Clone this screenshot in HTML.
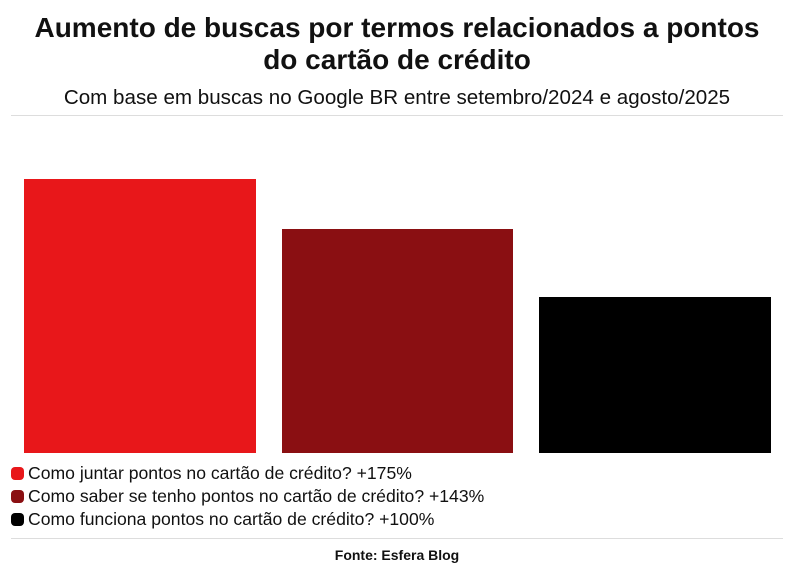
<!DOCTYPE html>
<html><head><meta charset="utf-8"><style>
body{margin:0;width:794px;height:575px;background:#fff;font-family:"Liberation Sans",sans-serif;color:#111;position:relative;overflow:hidden}
.a{position:absolute}
.t{left:0;width:794px;text-align:center;font-weight:bold;font-size:28px;line-height:32px}
.leg{left:11px;font-size:17.6px;line-height:23px;white-space:nowrap}
.dot{display:inline-block;width:13px;height:13px;border-radius:4px;vertical-align:-1px;margin-right:4px}
</style></head><body>
<div class="a t" style="top:12px">Aumento de buscas por termos relacionados a pontos<br>do cartão de crédito</div>
<div class="a" style="top:86px;left:0;width:794px;text-align:center;font-size:20.6px">Com base em buscas no Google BR entre setembro/2024 e agosto/2025</div>
<div class="a" style="top:115px;left:11px;width:772px;height:1px;background:#ddd"></div>
<div class="a" style="left:24px;top:179px;width:232px;height:274px;background:#E8171A"></div>
<div class="a" style="left:282px;top:229px;width:231px;height:224px;background:#8A0F12"></div>
<div class="a" style="left:539px;top:297px;width:232px;height:156px;background:#000"></div>
<div class="a leg" style="top:462px"><span class="dot" style="background:#E8171A"></span>Como juntar pontos no cartão de crédito? +175%</div>
<div class="a leg" style="top:485px"><span class="dot" style="background:#8A0F12"></span>Como saber se tenho pontos no cartão de crédito? +143%</div>
<div class="a leg" style="top:508px"><span class="dot" style="background:#000"></span>Como funciona pontos no cartão de crédito? +100%</div>
<div class="a" style="top:538px;left:11px;width:772px;height:1px;background:#ddd"></div>
<div class="a" style="top:547px;left:0;width:794px;text-align:center;font-weight:bold;font-size:14px">Fonte: Esfera Blog</div>
</body></html>
